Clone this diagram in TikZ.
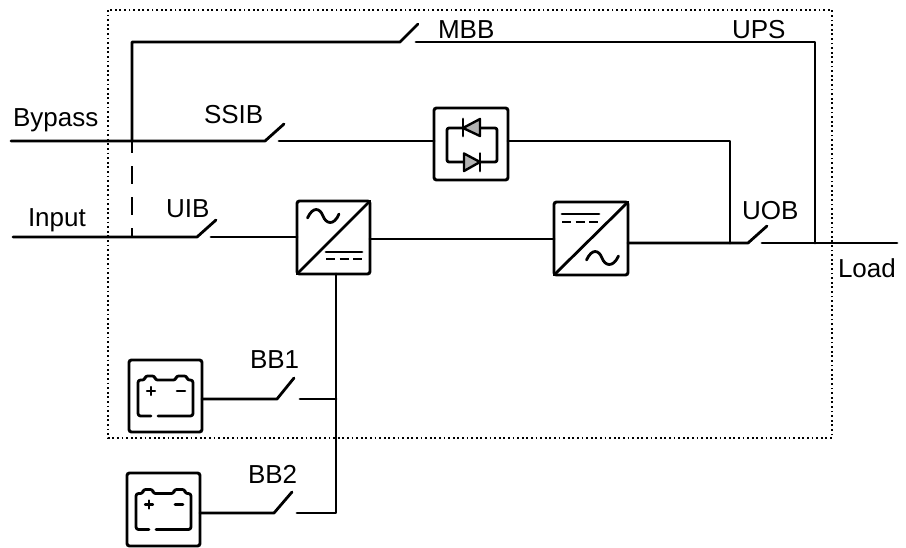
\documentclass[tikz,border=0pt]{standalone}
\usepackage{fontspec}
\setmainfont{Liberation Sans}
\tikzset{
  wire/.style={line width=2.8pt,line cap=round,line join=round,black},
  blockbox/.style={draw=black,line width=2.9pt,rounded corners=2.5pt,fill=white,minimum width=72pt,minimum height=71pt,inner sep=0pt,outer sep=0pt},
  lab/.style={anchor=base west,inner sep=0pt,outer sep=0pt,font=\fontsize{26}{30}\selectfont},
  frameline/.style={line width=1.8pt,dash pattern=on 1.8pt off 2.8pt,black},
  diodefill/.style={fill=black!30,draw=black,line width=2.4pt,line join=round},
  dashwire/.style={line width=2.8pt,dash pattern=on 18pt off 13pt,dash phase=6pt}
}
\begin{document}
\begin{tikzpicture}[x=1pt,y=-1pt]
\useasboundingbox (0,0) rectangle (906,547);
\fill[white] (0,0) rectangle (906,547);
% frame
\node[draw=none,minimum width=724pt,minimum height=428pt,inner sep=0pt,outer sep=0pt] (ups) at (470,224) {};
\draw[frameline] (ups.north west) rectangle (ups.south east);
% blocks
\node[blockbox,minimum width=73pt,minimum height=73pt] (rect) at (333.5,237.5) {};
\node[blockbox,minimum width=74pt,minimum height=73pt] (inv) at (591,238.5) {};
\node[blockbox,minimum width=74pt,minimum height=72pt] (ss) at (471,144) {};
\node[blockbox,minimum width=73pt,minimum height=72pt] (bat1) at (165.5,396) {};
\node[blockbox,minimum width=73pt,minimum height=73pt] (bat2) at (163.5,509.5) {};
% free ends and switch points
\coordinate (bypassin) at (11,141);
\coordinate (inputin) at (13,237);
\coordinate (loadout) at (897,243);
\coordinate (mbbcorner) at (132,42);
\coordinate (mbbA) at (400,42);
\coordinate (mbbT) at (418,24);
\coordinate (mbbB) at (416,42);
\coordinate (upscorner) at (815,42);
\coordinate (upsjoin) at (815,243);
\coordinate (bypassjoin) at (132,141);
\coordinate (inputjoin) at (132,237);
\coordinate (ssibA) at (265,141);
\coordinate (ssibT) at (284,124);
\coordinate (ssibB) at (279,141);
\coordinate (ssL) at (ss.west |- 0,141);
\coordinate (ssR) at (ss.east |- 0,141);
\coordinate (uibA) at (197,237);
\coordinate (uibT) at (216,220);
\coordinate (uibB) at (211,237);
\coordinate (rectL) at (rect.west |- 0,237);
\coordinate (rectR) at (rect.east |- 0,239);
\coordinate (invL) at (inv.west |- 0,239);
\coordinate (invR) at (inv.east |- 0,243);
\coordinate (uobjoin) at (730,243);
\coordinate (uobtop) at (730,141);
\coordinate (uobA) at (748,243);
\coordinate (uobT) at (767,226);
\coordinate (uobB) at (762,243);
\coordinate (busTop) at (rect.south -| 336,0);
\coordinate (bb1A) at (277,399);
\coordinate (bb1T) at (294,378);
\coordinate (bb1B) at (300,399);
\coordinate (bb1join) at (336,399);
\coordinate (bat1R) at (bat1.east |- 0,399);
\coordinate (bb2A) at (274,513);
\coordinate (bb2T) at (292,492);
\coordinate (bb2B) at (297,513);
\coordinate (bb2join) at (336,513);
\coordinate (bat2R) at (bat2.east |- 0,513);
% connectors
\draw[wire] (bypassjoin) -- (mbbcorner) -- (mbbA) -- (mbbT);
\draw[wire] (mbbB) -- (upscorner) -- (upsjoin);
\draw[wire] (bypassin) -- (ssibA) -- (ssibT);
\draw[wire] (ssibB) -- (ssL);
\draw[wire] (ssR) -- (uobtop) -- (uobjoin);
\draw[dashwire] (bypassjoin) -- (inputjoin);
\draw[wire] (inputin) -- (uibA) -- (uibT);
\draw[wire] (uibB) -- (rectL);
\draw[wire] (rectR) -- (invL);
\draw[wire] (invR) -- (uobA) -- (uobT);
\draw[wire] (uobB) -- (loadout);
\draw[wire] (busTop) -- (bb2join) -- (bb2B);
\draw[wire] (bb2T) -- (bb2A) -- (bat2R);
\draw[wire] (bb1join) -- (bb1B);
\draw[wire] (bb1T) -- (bb1A) -- (bat1R);
% converter symbols
\draw[wire] (rect.south west) -- (rect.north east);
\draw[wire] (307.5,218) .. controls (313,206) and (320,208) .. (323,216) .. controls (326,224) and (334,226) .. (339,214);
\draw[wire] (326,252) -- (362,252);
\draw[wire,dash pattern=on 9pt off 4.5pt,line cap=butt] (326,259) -- (362,259);
\draw[wire] (inv.south west) -- (inv.north east);
\draw[wire] (562,214) -- (599,214);
\draw[wire,dash pattern=on 9pt off 4.5pt,line cap=butt] (562,222) -- (599,222);
\draw[wire] (586.5,260) .. controls (592,248) and (599,250) .. (602,258) .. controls (605,266) and (613,268) .. (618.5,256);
% static switch symbol
\draw[wire,rounded corners=2pt] (447,128) rectangle (497,162);
\draw[diodefill] (463,128) -- (480,119) -- (480,136) -- cycle;
\draw[wire] (463,119) -- (463,136);
\draw[diodefill] (480,162) -- (464,153.5) -- (464,171) -- cycle;
\draw[wire] (480,153.5) -- (480,171);
% batteries
\newcommand{\batteryicon}[2]{%
 \begin{scope}[shift={(#1,#2)}]
  \draw[wire,rounded corners=2.5pt] (29,56) -- (64,56) -- (64,20) -- (58,20) -- (58,16) -- (47,16) -- (47,20) -- (26,20) -- (26,16) -- (16,16) -- (16,20) -- (9,20) -- (9,56) -- (22,56);
  \draw[wire,line width=2.2pt] (18,31) -- (26,31) (22,27) -- (22,35);
  \draw[wire,line width=2.6pt] (48,31) -- (56,31);
 \end{scope}}
\batteryicon{129}{360}
\batteryicon{127}{473.5}
% labels
\node[lab] (lmbb) at (438,38) {MBB};
\node[lab] (lups) at (732,38) {UPS};
\node[lab] (lbypass) at (13,126) {Bypass};
\node[lab] (lssib) at (204,123) {SSIB};
\node[lab] (luib) at (166,217) {UIB};
\node[lab] (linput) at (28,226) {Input};
\node[lab] (luob) at (742,219) {UOB};
\node[lab] (lload) at (838,277) {Load};
\node[lab] (lbb1) at (250,368) {BB1};
\node[lab] (lbb2) at (248,483) {BB2};
\end{tikzpicture}
\end{document}
